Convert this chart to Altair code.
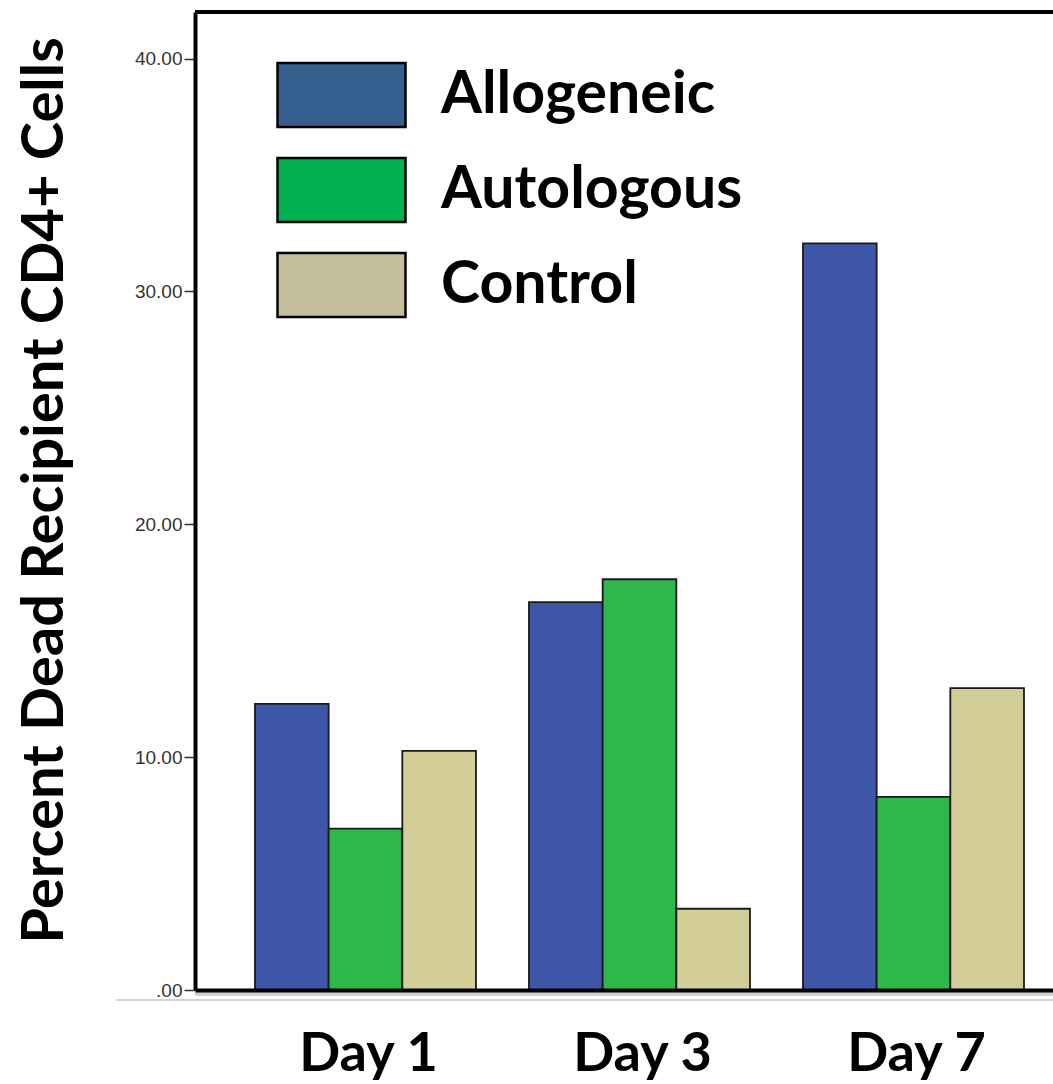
import altair as alt
import pandas as pd

# Percent of dead recipient CD4+ cells per day and co-culture condition
days = ["Day 1", "Day 3", "Day 7"]
series = ["Allogeneic", "Autologous", "Control"]
allogeneic = [12.29, 16.66, 32.06]
autologous = [6.93, 17.64, 8.29]
control = [10.27, 3.49, 12.96]

bar_colors = ["#3E56A8", "#2EB84B", "#D3CE97"]
legend_colors = ["#36608F", "#00AF50", "#C4BE9A"]

values_by_series = dict(zip(series, [allogeneic, autologous, control]))
rows = []
for s in series:
    for d, v in zip(days, values_by_series[s]):
        rows.append({"Day": d, "Series": s, "Value": v})
df = pd.DataFrame(rows)
series_df = pd.DataFrame({"Series": series})
one_row = pd.DataFrame({"k": [0]})

W, H = 858, 978

bars = alt.Chart(df).mark_bar(stroke="#1a1a1a", strokeWidth=1.8).encode(
    x=alt.X(
        "Day:N",
        sort=days,
        scale=alt.Scale(paddingInner=0.1934, paddingOuter=0.1624, align=0.674),
        axis=alt.Axis(
            title=None,
            labelAngle=0,
            labelFont="Lato",
            labelFontWeight="bold",
            labelFontSize=54,
            labelColor="black",
            labelBaseline="alphabetic",
            labelPadding=80,
            labelOffset=3,
            ticks=False,
            tickSize=0,
            domainColor="black",
            domainWidth=4,
            zindex=1,
        ),
    ),
    xOffset=alt.XOffset("Series:N", sort=series,
                        scale=alt.Scale(paddingInner=0, paddingOuter=0)),
    y=alt.Y(
        "Value:Q",
        scale=alt.Scale(domain=[0, 42], nice=False),
        axis=alt.Axis(
            title="Percent Dead Recipient CD4+ Cells",
            titleFont="Lato",
            titleFontWeight="bold",
            titleFontSize=58,
            titleColor="black",
            titleAngle=-90,
            titleAlign="center",
            titleBaseline="alphabetic",
            titleX=-133,
            titleY=478,
            values=[0, 10, 20, 30, 40],
            labelExpr="datum.value == 0 ? '.00' : format(datum.value, '.2f')",
            labelFont="Liberation Sans",
            labelFontSize=19,
            labelColor="#333333",
            labelPadding=2,
            tickSize=11,
            tickColor="#333333",
            tickWidth=1.5,
            domainColor="black",
            domainWidth=4,
            grid=False,
            zindex=1,
        ),
    ),
    color=alt.Color("Series:N", sort=series,
                    scale=alt.Scale(domain=series, range=bar_colors), legend=None),
)

# Invisible layer carrying the legend with its own swatch colours
legend_layer = alt.Chart(series_df).mark_square(size=0, strokeWidth=0).encode(
    color=alt.Color(
        "Series:N",
        sort=series,
        scale=alt.Scale(domain=series, range=legend_colors),
        legend=alt.Legend(
            title=None,
            orient="none",
            legendX=81,
            legendY=49,
            padding=0,
            symbolType="M-1,-0.5H1V0.5H-1Z",
            symbolSize=16384,
            symbolStrokeColor="black",
            symbolStrokeWidth=2.5,
            symbolOpacity=1,
            clipHeight=68,
            rowPadding=27,
            labelOffset=34,
            labelFont="Lato",
            labelFontWeight="bold",
            labelFontSize=59,
            labelColor="black",
            labelLimit=600,
        ),
    )
)

# Frame top edge and the soft shadow under the baseline
top_edge = alt.Chart(one_row).mark_rule(color="black", strokeWidth=4).encode(
    y=alt.value(0)
)
shadow_band = alt.Chart(one_row).mark_rule(color="#d2d2d2", strokeWidth=4).encode(
    x=alt.value(0), x2=alt.value(W), y=alt.value(H + 4)
)
shadow_line = alt.Chart(one_row).mark_rule(color="#c4c4c4", strokeWidth=1.5).encode(
    x=alt.value(-79), x2=alt.value(W), y=alt.value(H + 10)
)

chart = (
    alt.layer(bars, legend_layer, shadow_band, shadow_line, top_edge)
    .resolve_scale(color="independent")
    .properties(
        width=W,
        height=H,
        autosize=alt.AutoSizeParams(type="none"),
        padding={"left": 195, "top": 12, "right": 0, "bottom": 94},
        background="white",
    )
    .configure_view(fill="#F0F0F0", stroke=None)
)

chart.save("out.html", embed_options={"renderer": "svg", "actions": False})
